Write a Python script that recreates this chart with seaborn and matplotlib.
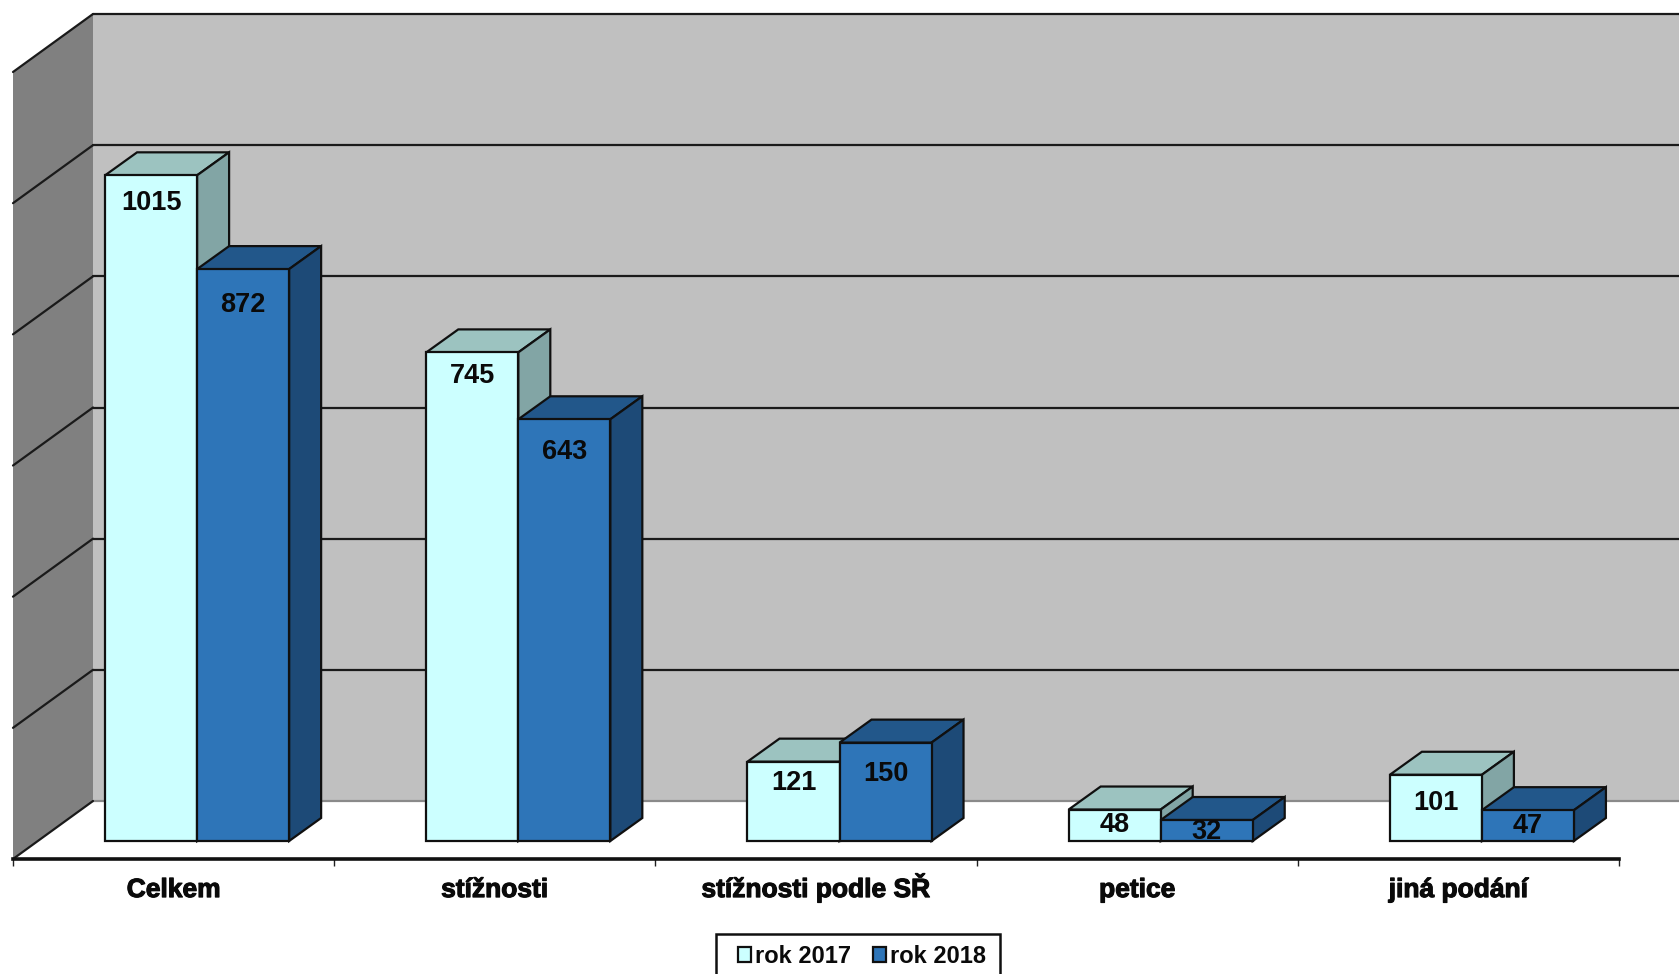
import pandas as pd
import matplotlib.pyplot as plt
import matplotlib.patheffects as pe
from matplotlib.patches import Polygon, Rectangle
from matplotlib.transforms import Affine2D
import seaborn as sns

categories = ['Celkem', 'stížnosti', 'stížnosti podle SŘ', 'petice', 'jiná podání']
rok_2017 = [1015, 745, 121, 48, 101]
rok_2018 = [872, 643, 150, 32, 47]
wall_ticks = [0, 200, 400, 600, 800, 1000, 1200]

colors = {'rok 2017': '#CCFFFF', 'rok 2018': '#2E75B8'}
top_colors = {'rok 2017': '#9CC3C0', 'rok 2018': '#22578A'}
side_colors = {'rok 2017': '#82A5A5', 'rok 2018': '#1D4A77'}

# svisle posuny popisku od vrsku sloupce (px), nejdriv 2017, pak 2018
label_drop = [28, 24, 21, 15, 28, 36, 33, 31, 12, 16]

sns.set_style('white')
plt.rcParams['font.family'] = ['Liberation Sans', 'DejaVu Sans']

df = pd.DataFrame({'kategorie': categories, 'rok 2017': rok_2017, 'rok 2018': rok_2018})
df_long = df.melt(id_vars='kategorie', var_name='rok', value_name='pocet')

W, H = 1679, 974
fig = plt.figure(figsize=(W / 100, H / 100), dpi=100)
ax = fig.add_axes([13 / W, (H - 859) / H, 1606 / W, 787 / H])

sns.barplot(data=df_long, x='kategorie', y='pocet', hue='rok', palette=colors,
            width=0.573, gap=0, saturation=1, edgecolor='#101010', linewidth=1.6, ax=ax)
ax.set_xlim(-0.5, 4.5)
ax.set_ylim(0, 1200)
ax.patch.set_visible(False)

wall_dx, wall_dy = 80, 58
bar_dx, bar_dy = 23.5, 18
depth_x, depth_y = 32, 23
wall_tr = ax.transData + Affine2D().translate(wall_dx, wall_dy)
bar_tr = ax.transData + Affine2D().translate(bar_dx, bar_dy)

# zadni a leva stena
ax.add_patch(Polygon([(-0.5, 0), (5.5, 0), (5.5, 1200), (-0.5, 1200)], closed=True,
                     facecolor='#C0C0C0', edgecolor='none', transform=wall_tr,
                     clip_on=False, zorder=0))
p0 = ax.transData.transform((-0.5, 0))
p1 = ax.transData.transform((-0.5, 1200))
ax.add_patch(Polygon([p0, p1, p1 + (wall_dx, wall_dy), p0 + (wall_dx, wall_dy)], closed=True,
                     facecolor='#808080', edgecolor='none', transform=None,
                     clip_on=False, zorder=0.5))
for v in wall_ticks:
    color = '#8a8a8a' if v == 0 else '#1a1a1a'
    ax.plot([-0.5, 5.5], [v, v], color=color, lw=1.6, transform=wall_tr, clip_on=False, zorder=1)
    a = ax.transData.transform((-0.5, v))
    ax.plot([a[0], a[0] + wall_dx], [a[1], a[1] + wall_dy], color='#1a1a1a', lw=1.6,
            transform=None, clip_on=False, zorder=1)

# sloupce s hloubkou
bars = list(ax.patches)[:10]
rows = ['rok 2017'] * 5 + ['rok 2018'] * 5
for i, (bar, rok) in enumerate(zip(bars, rows)):
    z = 2 if rok == 'rok 2017' else 3
    x0, x1 = bar.get_x(), bar.get_x() + bar.get_width()
    h = bar.get_height()
    br = bar_tr.transform((x1, 0))
    tl = bar_tr.transform((x0, h))
    tr = bar_tr.transform((x1, h))
    d = (depth_x, depth_y)
    ax.add_patch(Polygon([tl, tr, tr + d, tl + d], closed=True, facecolor=top_colors[rok],
                         edgecolor='#101010', lw=1.6, transform=None, clip_on=False, zorder=z))
    ax.add_patch(Polygon([br, tr, tr + d, br + d], closed=True, facecolor=side_colors[rok],
                         edgecolor='#101010', lw=1.6, transform=None, clip_on=False, zorder=z))
    bar.set_transform(bar_tr)
    bar.set_clip_on(False)
    bar.set_zorder(z + 0.1)
    ax.text((x0 + x1) / 2, h, str(int(h)), ha='center', va='center', fontsize=19.5,
            fontweight='bold', color='#0a0a0a', zorder=5, clip_on=False,
            transform=bar_tr + Affine2D().translate(0, -label_drop[i]))

# osa x
sns.despine(ax=ax, left=True)
ax.yaxis.set_visible(False)
ax.spines['bottom'].set_linewidth(2.6)
ax.spines['bottom'].set_color('#101010')
ax.spines['bottom'].set_zorder(6)
ax.set_xticks([-0.5, 0.5, 1.5, 2.5, 3.5, 4.5], minor=True)
ax.tick_params(axis='x', which='minor', bottom=True, length=5, width=1, color='#202020')
ax.tick_params(axis='x', which='major', bottom=False, length=0, pad=27.4)
ax.set_xlabel('')
for lab in ax.get_xticklabels():
    lab.set_fontsize(19)
    lab.set_fontweight('bold')
    lab.set_color('#0a0a0a')
    lab.set_verticalalignment('baseline')
    lab.set_path_effects([pe.withStroke(linewidth=0.8, foreground='#0a0a0a')])

# legenda
handles, labels = ax.get_legend_handles_labels()
leg = ax.legend(handles, labels, loc='upper center', bbox_to_anchor=(862 / W, (H - 932) / H),
                bbox_transform=fig.transFigure, ncol=2, frameon=False, fontsize=17,
                handlelength=0.55, handleheight=0.62, handletextpad=0.2, columnspacing=0.9,
                borderpad=0.55, borderaxespad=0, title=None)
leg.set_zorder(7)
for t in leg.get_texts():
    t.set_fontweight('bold')
    t.set_color('#0a0a0a')
for h in leg.legend_handles:
    h.set_edgecolor('#101010')
fig.add_artist(Rectangle((715.5 / W, -0.02), 285 / W, (H - 934) / H + 0.02,
                         transform=fig.transFigure, facecolor='none',
                         edgecolor='#101010', lw=1.8))

fig.savefig('out.png', dpi=100, facecolor='white')
